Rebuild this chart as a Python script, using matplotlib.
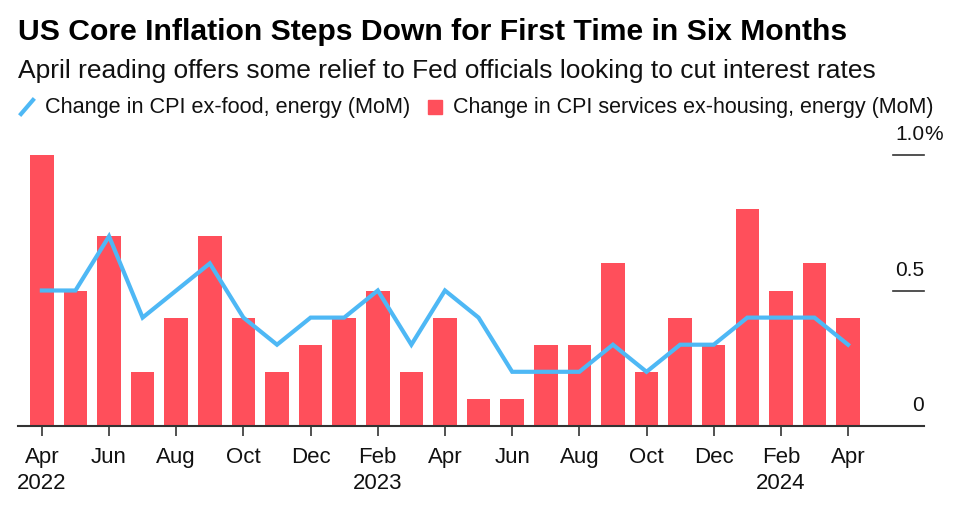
import matplotlib
matplotlib.use("Agg")
import matplotlib.pyplot as plt
import matplotlib.transforms as mtransforms
from matplotlib.patches import Rectangle
from matplotlib.lines import Line2D

plt.rcParams['font.family'] = ['Liberation Sans', 'DejaVu Sans']

months = ["Apr 2022", "May 2022", "Jun 2022", "Jul 2022", "Aug 2022", "Sep 2022",
          "Oct 2022", "Nov 2022", "Dec 2022", "Jan 2023", "Feb 2023", "Mar 2023",
          "Apr 2023", "May 2023", "Jun 2023", "Jul 2023", "Aug 2023", "Sep 2023",
          "Oct 2023", "Nov 2023", "Dec 2023", "Jan 2024", "Feb 2024", "Mar 2024",
          "Apr 2024"]
services_ex_housing = [1.0, 0.5, 0.7, 0.2, 0.4, 0.7, 0.4, 0.2, 0.3, 0.4, 0.5, 0.2,
                       0.4, 0.1, 0.1, 0.3, 0.3, 0.6, 0.2, 0.4, 0.3, 0.8, 0.5, 0.6, 0.4]
core_cpi = [0.5, 0.5, 0.7, 0.4, 0.5, 0.6, 0.4, 0.3, 0.4, 0.4, 0.5, 0.3,
            0.5, 0.4, 0.2, 0.2, 0.2, 0.3, 0.2, 0.3, 0.3, 0.4, 0.4, 0.4, 0.3]
tick_labels = ["Apr\n2022", "Jun", "Aug", "Oct", "Dec", "Feb\n2023", "Apr",
               "Jun", "Aug", "Oct", "Dec", "Feb\n2024", "Apr"]
y_ticks = [0, 0.5, 1.0]
y_tick_labels = ["0", "0.5", "1.0"]

RED = "#FF4F5B"
BLUE = "#4EB8F5"

W, H = 961, 507
fig = plt.figure(figsize=(W / 100, H / 100), dpi=100)
ax = fig.add_axes([18 / W, (H - 426) / H, (924 - 18) / W, (426 - 155) / H])

x = list(range(len(months)))
ax.bar(x, services_ex_housing, width=0.7, color=RED, zorder=2)
ax.plot(x, core_cpi, color=BLUE, lw=3, zorder=3, solid_joinstyle='miter')

ax.set_xlim(-0.71, len(months) - 1 + 2.26)
ax.set_ylim(0, 1.0)

for s in ["top", "right", "left"]:
    ax.spines[s].set_visible(False)
ax.spines["bottom"].set_color("#333333")
ax.spines["bottom"].set_linewidth(1.5)
ax.spines["bottom"].set_zorder(4)

ax.set_xticks(x[::2])
ax.set_xticklabels(tick_labels, fontsize=16, linespacing=1.3, color="#111111")
ax.tick_params(axis="x", length=7, width=1.2, color="#333333", pad=8)
ax.set_yticks([])

# right-side y labels with short lines
trans = mtransforms.blended_transform_factory(ax.transAxes, ax.transData)
x0 = (893 - 18) / (924 - 18)
for v, lab in zip(y_ticks, y_tick_labels):
    if v > 0:
        ax.add_line(Line2D([x0, 1.0], [v, v], transform=trans, color="#333333",
                           lw=1.2, clip_on=False))
    ax.text(1.0, v + 0.075, lab, transform=trans, ha="right", va="center",
            fontsize=15, color="#111111")
ax.text(1.0, y_ticks[-1] + 0.075, "%", transform=trans, ha="left", va="center",
        fontsize=15, color="#111111")

# Title and subtitle
fig.text(18 / W, 1 - 32 / H, "US Core Inflation Steps Down for First Time in Six Months",
         fontsize=21.7, fontweight="bold", va="center", ha="left", color="#000000")
fig.text(18 / W, 1 - 71 / H, "April reading offers some relief to Fed officials looking to cut interest rates",
         fontsize=19, va="center", ha="left", color="#111111")

# Legend
ly = 1 - 108 / H
fig.add_artist(Line2D([21 / W, 33 / W], [1 - 114 / H, 1 - 100 / H], color=BLUE, lw=3))
fig.text(45 / W, ly, "Change in CPI ex-food, energy (MoM)", fontsize=15.6,
         va="center", ha="left", color="#111111")
fig.add_artist(Rectangle((428 / W, 1 - 114 / H), 14 / W, 14 / H, color=RED,
                         transform=fig.transFigure))
fig.text(453 / W, ly, "Change in CPI services ex-housing, energy (MoM)", fontsize=15.5,
         va="center", ha="left", color="#111111")

fig.savefig("out.png", dpi=100)
